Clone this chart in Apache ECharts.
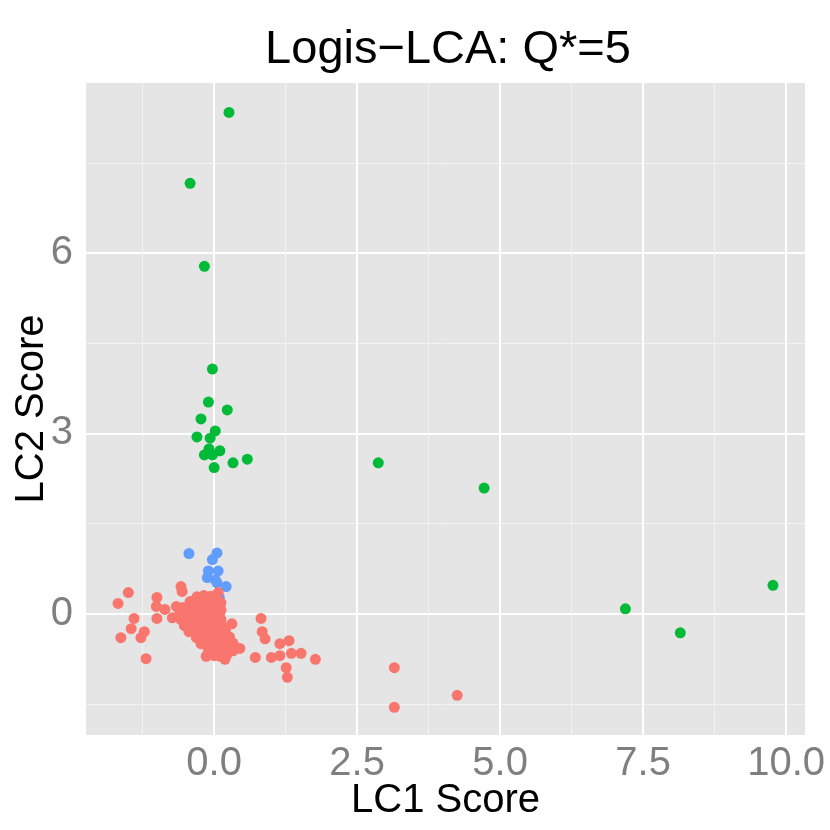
<!DOCTYPE html>
<html>
<head>
<meta charset="utf-8">
<script src="https://cdn.jsdelivr.net/npm/echarts@6/dist/echarts.min.js"></script>
<style>html,body{margin:0;padding:0;background:#fff;}#c{width:830px;height:830px;}</style>
</head>
<body>
<div id="c"></div>
<script>
// ---- data (LC1 score, LC2 score) ----
const classRed = [
  [-1.50,0.35],[-1.68,0.17],[-1.40,-0.08],[-1.45,-0.25],[-1.63,-0.40],[-1.22,-0.30],[-1.28,-0.40],[-1.19,-0.75],
  [-1.00,0.27],[-1.01,0.12],[-1.00,-0.08],[-0.86,0.07],[-0.66,0.12],[-0.73,-0.07],[-0.58,0.45],[-0.56,0.37],
  [0.07,0.35],[0.31,-0.17],[0.45,-0.58],[-0.14,-0.71],[0.19,-0.76],[0.82,-0.08],[0.84,-0.30],[0.89,-0.42],
  [0.72,-0.73],[1.00,-0.73],[1.15,-0.50],[1.31,-0.45],[1.15,-0.70],[1.35,-0.66],[1.26,-0.90],[1.28,-1.06],
  [1.52,-0.66],[1.77,-0.76],[3.15,-0.90],[3.15,-1.56],[4.25,-1.36],
  [-0.30,0.28],[-0.18,0.30],[-0.06,0.29],
  [-0.42,0.20],[-0.30,0.21],[-0.17,0.19],[-0.05,0.20],[0.06,0.21],[0.12,0.18],
  [-0.54,0.10],[-0.42,0.11],[-0.30,0.09],[-0.17,0.10],[-0.05,0.11],[0.06,0.09],[0.12,0.06],
  [-0.60,0.01],[-0.48,0.00],[-0.35,-0.01],[-0.23,0.01],[-0.10,0.00],[0.02,-0.01],[0.10,0.01],
  [-0.58,-0.10],[-0.45,-0.09],[-0.33,-0.11],[-0.21,-0.10],[-0.09,-0.09],[0.03,-0.11],[0.12,-0.10],
  [-0.52,-0.20],[-0.40,-0.21],[-0.28,-0.19],[-0.16,-0.20],[-0.03,-0.21],[0.07,-0.19],[0.15,-0.22],
  [-0.44,-0.30],[-0.31,-0.29],[-0.19,-0.31],[-0.07,-0.30],[0.05,-0.29],[0.14,-0.31],[0.20,-0.28],
  [-0.31,-0.40],[-0.19,-0.41],[-0.07,-0.39],[0.05,-0.40],[0.16,-0.41],[0.27,-0.39],
  [-0.23,-0.50],[-0.10,-0.51],[0.02,-0.49],[0.13,-0.50],[0.24,-0.51],[0.33,-0.49],
  [-0.10,-0.60],[0.02,-0.61],[0.14,-0.59],[0.25,-0.60],[0.33,-0.62],
  [0.00,-0.70],[0.11,-0.71],[0.22,-0.69]
];
const classGreen = [
  [0.26,8.34],[-0.42,7.16],[-0.17,5.78],[-0.03,4.07],[-0.10,3.52],[0.23,3.39],[-0.23,3.24],[0.02,3.04],
  [-0.30,2.94],[-0.07,2.92],[-0.09,2.74],[-0.17,2.64],[-0.03,2.64],[0.10,2.71],[0.33,2.51],[0.58,2.57],
  [0.00,2.43],[2.87,2.51],[4.72,2.09],[7.19,0.08],[8.15,-0.32],[9.77,0.47]
];
const classBlue = [
  [-0.44,1.00],[0.05,1.01],[-0.03,0.90],[-0.10,0.71],[0.07,0.71],[-0.12,0.60],[0.02,0.56],[0.05,0.51],
  [0.21,0.45],[0.09,0.27]
];
const xTicks = [0, 2.5, 5, 7.5, 10];
const xMinor = [-1.25, 1.25, 3.75, 6.25, 8.75];
const yTicks = [0, 3, 6];
const yMinor = [-1.5, 1.5, 4.5, 7.5];

const chart = echarts.init(document.getElementById('c'));
const FONT = 'Liberation Sans';
const gridLines = [];
xMinor.forEach(v => gridLines.push({xAxis: v, lineStyle: {color: '#F2F2F2', width: 1}}));
yMinor.forEach(v => gridLines.push({yAxis: v, lineStyle: {color: '#F2F2F2', width: 1}}));
xTicks.forEach(v => gridLines.push({xAxis: v, lineStyle: {color: '#FFFFFF', width: 2}}));
yTicks.forEach(v => gridLines.push({yAxis: v, lineStyle: {color: '#FFFFFF', width: 2}}));

chart.setOption({
  animation: false,
  title: {
    text: 'Logis\u2212LCA: Q*=5',
    left: 443, top: 22, textAlign: 'center',
    textStyle: {fontFamily: FONT, fontSize: 47, fontWeight: 'normal', color: '#000'}
  },
  grid: {left: 86, right: 25, top: 83, bottom: 95, show: true, backgroundColor: '#E5E5E5', borderWidth: 0,
    containLabel: false, outerBoundsMode: 'none'},
  xAxis: {
    type: 'value', min: -2.24, max: 10.33,
    name: 'LC1 Score', nameLocation: 'middle', nameGap: 46, nameMoveOverlap: false,
    nameTextStyle: {fontFamily: FONT, fontSize: 40, color: '#000'},
    axisLine: {show: false},
    axisTick: {show: true, customValues: xTicks, length: 6, lineStyle: {color: '#7F7F7F', width: 1.5}},
    axisLabel: {customValues: xTicks, margin: 9, fontFamily: FONT, fontSize: 40, color: '#7F7F7F',
      hideOverlap: false, formatter: v => v.toFixed(1)},
    splitLine: {show: false}
  },
  yAxis: {
    type: 'value', min: -2.02, max: 8.83,
    name: 'LC2 Score', nameLocation: 'middle', nameGap: 34, nameRotate: 90, nameMoveOverlap: false,
    nameTextStyle: {fontFamily: FONT, fontSize: 40, color: '#000'},
    axisLine: {show: false},
    axisTick: {show: true, customValues: yTicks, length: 6, lineStyle: {color: '#7F7F7F', width: 1.5}},
    axisLabel: {customValues: yTicks, margin: 13, fontFamily: FONT, fontSize: 40, color: '#7F7F7F',
      formatter: v => String(v)},
    splitLine: {show: false}
  },
  series: [
    {
      type: 'scatter', data: [], z: 1, silent: true,
      markLine: {silent: true, symbol: ['none', 'none'], z: 1, label: {show: false},
        lineStyle: {type: 'solid'}, emphasis: {disabled: true}, data: gridLines}
    },
    {type: 'scatter', name: 'blue', data: classBlue, symbolSize: 11, z: 3, itemStyle: {color: '#619CFF', opacity: 1}},
    {type: 'scatter', name: 'red', data: classRed, symbolSize: 11, z: 3, itemStyle: {color: '#F8766D', opacity: 1}},
    {type: 'scatter', name: 'green', data: classGreen, symbolSize: 11, z: 3, itemStyle: {color: '#00BA38', opacity: 1}}
  ]
});
</script>
</body>
</html>
